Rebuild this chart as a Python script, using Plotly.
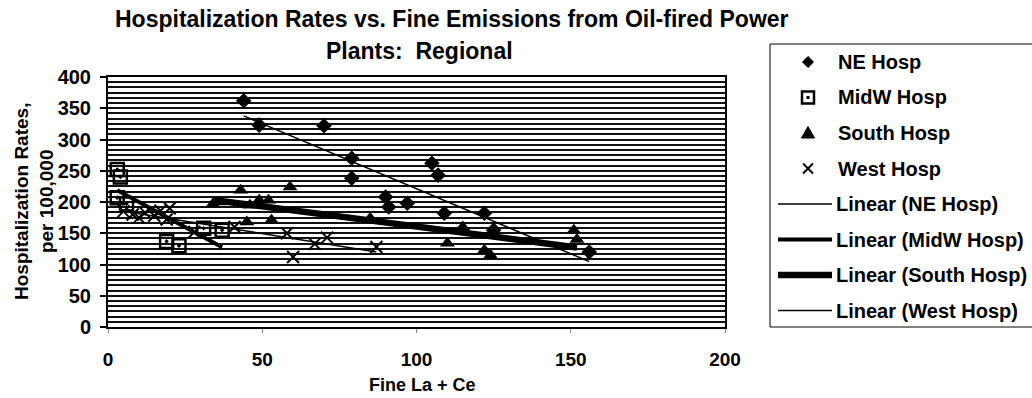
import numpy as np
import plotly.graph_objects as go

# Fine La + Ce emissions (x) and hospitalization rates per 100,000 (y), by region
ne_x = [44, 49, 70, 79, 79, 90, 91, 97, 105, 107, 109, 122, 125, 156]
ne_y = [362, 323, 322, 270, 238, 208, 192, 198, 262, 243, 182, 182, 155, 120]

midw_x = [3, 4, 3, 6, 19, 23, 31, 37]
midw_y = [252, 240, 207, 197, 137, 130, 158, 155]

south_x = [34, 36, 43, 46, 49, 52, 45, 53, 59, 85, 110, 115, 122, 124, 151, 152]
south_y = [197, 200, 219, 195, 203, 203, 168, 171, 224, 174, 134, 160, 123, 115, 155, 140]

west_x = [5, 8, 10, 12, 15, 17, 19, 20, 28, 41, 58, 60, 67, 71, 87]
west_y = [185, 180, 175, 183, 178, 186, 172, 190, 152, 160, 150, 112, 133, 143, 128]

x_ticks = [0, 50, 100, 150, 200]
y_ticks = [0, 50, 100, 150, 200, 250, 300, 350, 400]

W, H = 1032, 398
NARROW = "Liberation Sans Narrow, Liberation Sans, Arial, sans-serif"
WIDE = "Liberation Sans, Arial, sans-serif"

# plot frame in page pixels
PX0, PX1, PY0, PY1 = 108, 725, 77, 327


def px(x):
    """page pixel column -> paper x"""
    return (x - PX0) / (PX1 - PX0)


def py(y):
    """page pixel row -> paper y"""
    return (PY1 - y) / (PY1 - PY0)


def linear_fit(xs, ys):
    """Least-squares trend line spanning the range of xs."""
    slope, intercept = np.polyfit(xs, ys, 1)
    lx = np.array([min(xs), max(xs)], dtype=float)
    return lx, slope * lx + intercept


fig = go.Figure()

series = [
    ("NE Hosp", ne_x, ne_y, dict(symbol="diamond", size=12, color="black")),
    ("MidW Hosp", midw_x, midw_y,
     dict(symbol="square-open-dot", size=13, color="black", line=dict(width=2.5, color="black"))),
    ("South Hosp", south_x, south_y, dict(symbol="triangle-up", size=13, color="black")),
    ("West Hosp", west_x, west_y,
     dict(symbol="x-thin-open", size=12, color="black", line=dict(width=2, color="black"))),
]
trend_widths = [1.5, 4, 6.5, 1.5]

for name, xs, ys, mk in series:
    fig.add_trace(go.Scatter(x=xs, y=ys, mode="markers", name=name, marker=mk,
                             cliponaxis=False, showlegend=False))

for (name, xs, ys, _), w in zip(series, trend_widths):
    lx, ly = linear_fit(xs, ys)
    fig.add_trace(go.Scatter(x=lx, y=ly, mode="lines", name=f"Linear ({name})",
                             line=dict(color="black", width=w), showlegend=False))

# ---- legend box (paper coordinates, laid out in page pixels) ----
LEG_L, LEG_T, LEG_R, LEG_B = 770, 44, 1036, 327
row_y = [62, 97.5, 133, 168.5, 204, 239.5, 275, 310.5]
sym_x, line_x0, line_x1, text_x = 808, 778, 832, 836

shapes = [dict(type="rect", xref="paper", yref="paper",
               x0=px(LEG_L), x1=px(LEG_R), y0=py(LEG_B), y1=py(LEG_T),
               line=dict(color="black", width=1), fillcolor="white")]


def poly(points):
    return "M " + " L ".join(f"{px(a):.5f},{py(b):.5f}" for a, b in points) + " Z"


cx = sym_x
# diamond
r = row_y[0]
shapes.append(dict(type="path", xref="paper", yref="paper",
                   path=poly([(cx, r - 5.5), (cx + 5.5, r), (cx, r + 5.5), (cx - 5.5, r)]),
                   fillcolor="black", line=dict(color="black", width=1)))
# open square with dot
r = row_y[1]
shapes.append(dict(type="rect", xref="paper", yref="paper",
                   x0=px(cx - 6), x1=px(cx + 6), y0=py(r + 6), y1=py(r - 6),
                   fillcolor="white", line=dict(color="black", width=2.5)))
shapes.append(dict(type="rect", xref="paper", yref="paper",
                   x0=px(cx - 1.5), x1=px(cx + 1.5), y0=py(r + 1.5), y1=py(r - 1.5),
                   fillcolor="black", line=dict(color="black", width=0)))
# triangle
r = row_y[2]
shapes.append(dict(type="path", xref="paper", yref="paper",
                   path=poly([(cx, r - 6.5), (cx + 6.5, r + 5), (cx - 6.5, r + 5)]),
                   fillcolor="black", line=dict(color="black", width=1)))
# x
r = row_y[3]
for a, b in [((cx - 5, r - 5), (cx + 5, r + 5)), ((cx - 5, r + 5), (cx + 5, r - 5))]:
    shapes.append(dict(type="line", xref="paper", yref="paper",
                       x0=px(a[0]), y0=py(a[1]), x1=px(b[0]), y1=py(b[1]),
                       line=dict(color="black", width=2)))

annotations = []
for i, (name, *_rest) in enumerate(series):
    annotations.append(dict(text=name, xref="paper", yref="paper", x=px(text_x), y=py(row_y[i]),
                            xanchor="left", yanchor="middle", showarrow=False,
                            font=dict(family=NARROW, size=20, weight="bold")))

for j, ((name, *_rest), w) in enumerate(zip(series, trend_widths)):
    r = row_y[4 + j]
    shapes.append(dict(type="line", xref="paper", yref="paper",
                       x0=px(line_x0), x1=px(line_x1), y0=py(r), y1=py(r),
                       line=dict(color="black", width=w)))
    annotations.append(dict(text=f"Linear ({name})", xref="paper", yref="paper",
                            x=px(text_x - 2), y=py(r),
                            xanchor="left", yanchor="middle", showarrow=False,
                            font=dict(family=NARROW, size=20, weight="bold")))

# ---- titles ----
annotations += [
    dict(text="<b>Hospitalization Rates vs. Fine Emissions from Oil-fired Power</b>",
         xref="paper", yref="paper", x=px(452), y=py(19), xanchor="center", yanchor="middle",
         showarrow=False, font=dict(family=NARROW, size=23)),
    dict(text="<b>Plants:  Regional</b>",
         xref="paper", yref="paper", x=px(419), y=py(51), xanchor="center", yanchor="middle",
         showarrow=False, font=dict(family=NARROW, size=23)),
    dict(text="<b>Hospitalization Rates,<br>per 100,000</b>",
         xref="paper", yref="paper", x=px(34), y=py(202), xanchor="center", yanchor="middle",
         showarrow=False, textangle=-90, font=dict(family=NARROW, size=19)),
    dict(text="<b>Fine La + Ce</b>",
         xref="paper", yref="paper", x=px(422), y=py(385), xanchor="center", yanchor="middle",
         showarrow=False, font=dict(family=NARROW, size=18)),
]

fig.update_layout(
    width=W, height=H,
    margin=dict(l=PX0, r=W - PX1, t=PY0, b=H - PY1, autoexpand=False),
    paper_bgcolor="white", plot_bgcolor="white",
    font=dict(family=NARROW, color="black", size=18),
    showlegend=False,
    xaxis=dict(
        range=[0, 200], tickvals=x_ticks, ticktext=[str(v) for v in x_ticks],
        showgrid=False, zeroline=False,
        showline=True, linecolor="black", linewidth=2, mirror=True,
        ticks="outside", ticklen=4, tickcolor="#888", tickwidth=1,
        tickfont=dict(family=WIDE, size=19, weight="bold"),
        ticklabelstandoff=10,
    ),
    yaxis=dict(
        range=[0, 400], tickvals=y_ticks, ticktext=[str(v) for v in y_ticks],
        showgrid=True, gridcolor="#111", gridwidth=2,
        minor=dict(dtick=50 / 6, showgrid=True, gridcolor="#111", gridwidth=2, ticks=""),
        zeroline=False,
        showline=True, linecolor="black", linewidth=2, mirror=True,
        ticks="outside", ticklen=6, tickcolor="black", tickwidth=2,
        tickfont=dict(family=WIDE, size=20, weight="bold"),
        ticklabelstandoff=5,
    ),
    shapes=shapes,
    annotations=annotations,
)

fig.write_html("out.html")
